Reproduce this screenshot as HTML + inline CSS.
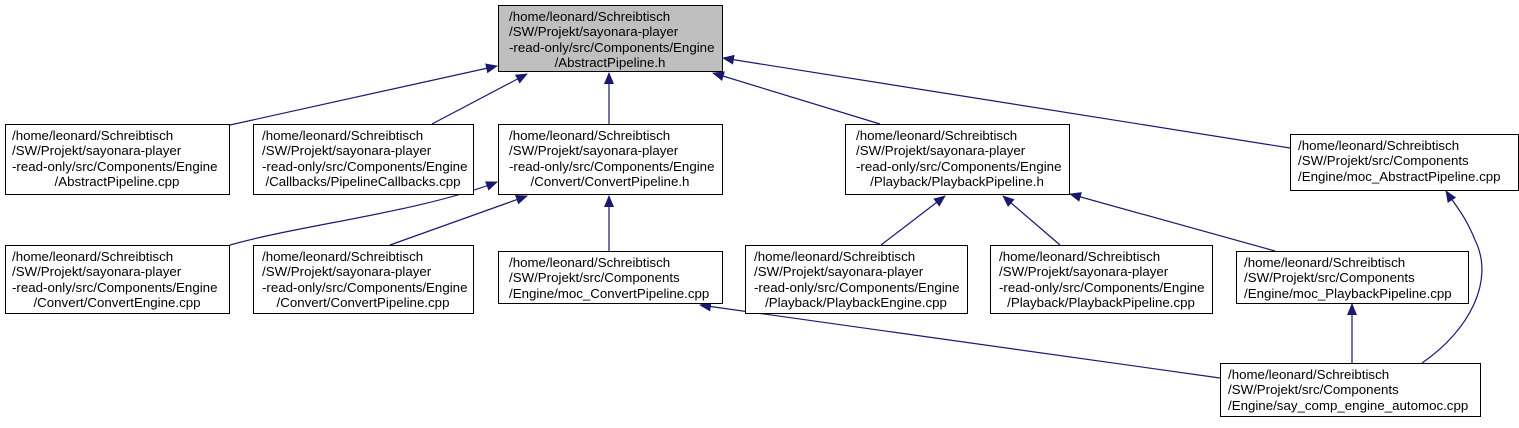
<!DOCTYPE html>
<html><head><meta charset="utf-8"><style>
html,body{margin:0;padding:0;background:#fff;}
svg text{font-family:"Liberation Sans",Helvetica,sans-serif;font-size:13.3px;fill:#000;}
</style></head><body>
<svg width="1519" height="423" viewBox="0 0 1519 423" xmlns="http://www.w3.org/2000/svg">
<defs>
<marker id="a" markerWidth="12" markerHeight="10" refX="11" refY="5" orient="auto" markerUnits="userSpaceOnUse">
<path d="M0,0 L12,5 L0,10 z" fill="#191970"/>
</marker>
</defs>
<g stroke="#191970" stroke-width="1.2" fill="none" marker-end="url(#a)">
<line x1="230" y1="125" x2="497" y2="66"/>
<line x1="432" y1="124" x2="527" y2="74"/>
<line x1="609" y1="124" x2="609" y2="73"/>
<line x1="880" y1="124" x2="713" y2="73"/>
<line x1="1290" y1="148" x2="723" y2="58"/>
<path d="M230,245 C300,225 420,212 497,182"/>
<line x1="390" y1="245" x2="527" y2="196"/>
<line x1="609" y1="251" x2="609" y2="196"/>
<line x1="881" y1="245" x2="945" y2="196"/>
<line x1="1060" y1="245" x2="1003" y2="196"/>
<line x1="1275" y1="251" x2="1070" y2="194"/>
<line x1="1220" y1="378" x2="700" y2="305"/>
<line x1="1352" y1="363" x2="1352" y2="304"/>
<path d="M1422,363 C1470,330 1495,280 1475,240 C1465,215 1455,205 1446,191"/>
</g>
<g stroke="#000" stroke-width="1" fill="#fff">
<rect x="498.5" y="5.5" width="224" height="66" fill="#bfbfbf"/>
<rect x="5.5" y="124.5" width="224" height="70"/>
<rect x="253.5" y="124.5" width="220" height="70"/>
<rect x="498.5" y="124.5" width="224" height="70"/>
<rect x="845.5" y="124.5" width="224" height="70"/>
<rect x="1290.5" y="134.5" width="228" height="56"/>
<rect x="5.5" y="245.5" width="224" height="68"/>
<rect x="253.5" y="245.5" width="220" height="68"/>
<rect x="498.5" y="251.5" width="224" height="52"/>
<rect x="745.5" y="245.5" width="222" height="68"/>
<rect x="990.5" y="245.5" width="222" height="68"/>
<rect x="1236.5" y="251.5" width="232" height="52"/>
<rect x="1220.5" y="363.5" width="260" height="53"/>
</g>
<text x="509" y="21">/home/leonard/Schreibtisch</text>
<text x="509" y="36">/SW/Projekt/sayonara-player</text>
<text x="509" y="52">-read-only/src/Components/Engine</text>
<text x="610" y="67" text-anchor="middle">/AbstractPipeline.h</text>

<text x="12" y="140">/home/leonard/Schreibtisch</text>
<text x="12" y="155">/SW/Projekt/sayonara-player</text>
<text x="12" y="171">-read-only/src/Components/Engine</text>
<text x="117" y="186" text-anchor="middle">/AbstractPipeline.cpp</text>

<text x="262" y="140">/home/leonard/Schreibtisch</text>
<text x="262" y="155">/SW/Projekt/sayonara-player</text>
<text x="262" y="171">-read-only/src/Components/Engine</text>
<text x="363" y="186" text-anchor="middle">/Callbacks/PipelineCallbacks.cpp</text>

<text x="509" y="140">/home/leonard/Schreibtisch</text>
<text x="509" y="155">/SW/Projekt/sayonara-player</text>
<text x="509" y="171">-read-only/src/Components/Engine</text>
<text x="610" y="186" text-anchor="middle">/Convert/ConvertPipeline.h</text>

<text x="856" y="140">/home/leonard/Schreibtisch</text>
<text x="856" y="155">/SW/Projekt/sayonara-player</text>
<text x="856" y="171">-read-only/src/Components/Engine</text>
<text x="957" y="186" text-anchor="middle">/Playback/PlaybackPipeline.h</text>

<text x="1298" y="150">/home/leonard/Schreibtisch</text>
<text x="1298" y="165">/SW/Projekt/src/Components</text>
<text x="1298" y="181">/Engine/moc_AbstractPipeline.cpp</text>

<text x="12" y="261">/home/leonard/Schreibtisch</text>
<text x="12" y="276">/SW/Projekt/sayonara-player</text>
<text x="12" y="292">-read-only/src/Components/Engine</text>
<text x="117" y="307" text-anchor="middle">/Convert/ConvertEngine.cpp</text>

<text x="262" y="261">/home/leonard/Schreibtisch</text>
<text x="262" y="276">/SW/Projekt/sayonara-player</text>
<text x="262" y="292">-read-only/src/Components/Engine</text>
<text x="363" y="307" text-anchor="middle">/Convert/ConvertPipeline.cpp</text>

<text x="509" y="267">/home/leonard/Schreibtisch</text>
<text x="509" y="282">/SW/Projekt/src/Components</text>
<text x="509" y="298">/Engine/moc_ConvertPipeline.cpp</text>

<text x="754" y="261">/home/leonard/Schreibtisch</text>
<text x="754" y="276">/SW/Projekt/sayonara-player</text>
<text x="754" y="292">-read-only/src/Components/Engine</text>
<text x="856" y="307" text-anchor="middle">/Playback/PlaybackEngine.cpp</text>

<text x="999" y="261">/home/leonard/Schreibtisch</text>
<text x="999" y="276">/SW/Projekt/sayonara-player</text>
<text x="999" y="292">-read-only/src/Components/Engine</text>
<text x="1101" y="307" text-anchor="middle">/Playback/PlaybackPipeline.cpp</text>

<text x="1244" y="267">/home/leonard/Schreibtisch</text>
<text x="1244" y="282">/SW/Projekt/src/Components</text>
<text x="1244" y="298">/Engine/moc_PlaybackPipeline.cpp</text>

<text x="1228" y="379">/home/leonard/Schreibtisch</text>
<text x="1228" y="394">/SW/Projekt/src/Components</text>
<text x="1228" y="410">/Engine/say_comp_engine_automoc.cpp</text>
</svg>
</body></html>
